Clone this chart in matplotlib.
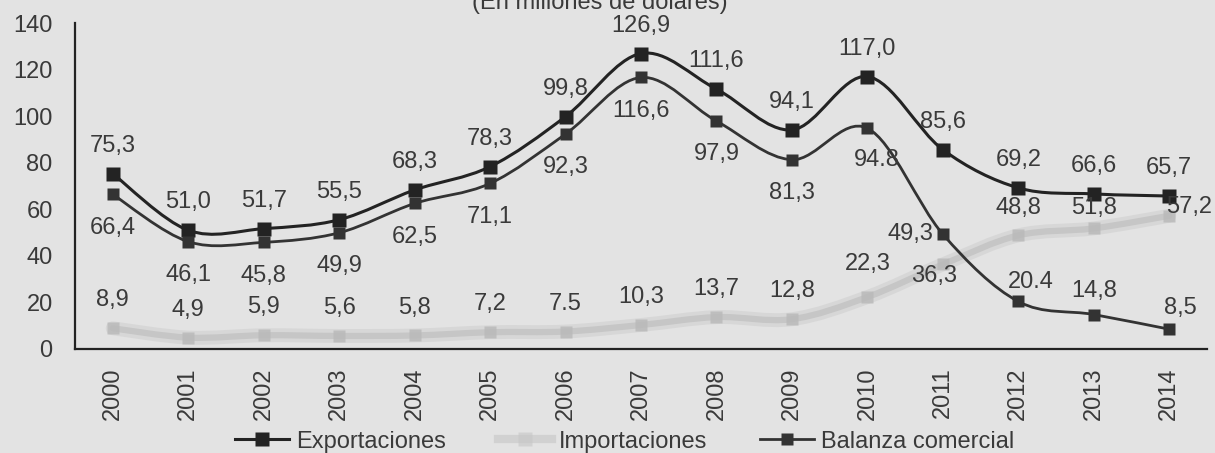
import matplotlib
matplotlib.use('Agg')
from matplotlib import pyplot as plt
from matplotlib.path import Path
from matplotlib.patches import PathPatch
from matplotlib.lines import Line2D

# datos (en millones de dolares)
years = ['2000', '2001', '2002', '2003', '2004', '2005', '2006', '2007',
         '2008', '2009', '2010', '2011', '2012', '2013', '2014']
exportaciones = [75.3, 51.0, 51.7, 55.5, 68.3, 78.3, 99.8, 126.9,
                 111.6, 94.1, 117.0, 85.6, 69.2, 66.6, 65.7]
importaciones = [8.9, 4.9, 5.9, 5.6, 5.8, 7.2, 7.5, 10.3,
                 13.7, 12.8, 22.3, 36.3, 48.8, 51.8, 57.2]
balanza = [66.4, 46.1, 45.8, 49.9, 62.5, 71.1, 92.3, 116.6,
           97.9, 81.3, 94.8, 49.3, 20.4, 14.8, 8.5]

exp_labels = ['75,3', '51,0', '51,7', '55,5', '68,3', '78,3', '99,8', '126,9',
              '111,6', '94,1', '117,0', '85,6', '69,2', '66,6', '65,7']
imp_labels = ['8,9', '4,9', '5,9', '5,6', '5,8', '7,2', '7.5', '10,3',
              '13,7', '12,8', '22,3', '36,3', '48,8', '51,8', '57,2']
bal_labels = ['66,4', '46,1', '45,8', '49,9', '62,5', '71,1', '92,3', '116,6',
              '97,9', '81,3', '94.8', '49,3', '20.4', '14,8', '8,5']

# desplazamientos de las etiquetas (puntos)
imp_offsets = {10: (0, 24), 11: (-6, -8), 13: (0, 15), 14: (14, 6)}
bal_offsets = {10: (7, -23), 11: (-23, 0), 12: (9, 14), 13: (0, 17), 14: (8, 15)}

BG = '#e3e3e3'
DARK = '#232323'
TXT = '#3a3a3a'
GRAY = '#c6c6c6'

plt.rcParams['font.family'] = ['Liberation Sans', 'DejaVu Sans']
plt.rcParams['font.size'] = 17


def smooth_path(xs, ys):
    # curva suavizada tipo Catmull-Rom convertida a Bezier
    pts = list(zip(xs, ys))
    n = len(pts)
    verts = [pts[0]]
    codes = [Path.MOVETO]
    for i in range(n - 1):
        p0 = pts[max(i - 1, 0)]
        p1 = pts[i]
        p2 = pts[i + 1]
        p3 = pts[min(i + 2, n - 1)]
        c1 = (p1[0] + (p2[0] - p0[0]) / 6, p1[1] + (p2[1] - p0[1]) / 6)
        c2 = (p2[0] - (p3[0] - p1[0]) / 6, p2[1] - (p3[1] - p1[1]) / 6)
        verts += [c1, c2, p2]
        codes += [Path.CURVE4] * 3
    return Path(verts, codes)


fig = plt.figure(figsize=(12.15, 4.53), dpi=100, facecolor=BG)
ax = fig.add_axes([0.0617, 0.2296, 0.9317, 0.7196])
ax.set_facecolor(BG)

x = list(range(len(years)))

# importaciones (gris difuso)
ax.add_patch(PathPatch(smooth_path(x, importaciones), fill=False,
                       edgecolor=GRAY, lw=10, alpha=0.4, capstyle='round'))
ax.add_patch(PathPatch(smooth_path(x, importaciones), fill=False,
                       edgecolor=GRAY, lw=4.5, capstyle='round'))
ax.plot(x, importaciones, 's', color='#bababa', ms=9, mec='none', alpha=0.85)

# exportaciones y balanza
ax.add_patch(PathPatch(smooth_path(x, exportaciones), fill=False,
                       edgecolor=DARK, lw=2.2))
ax.plot(x, exportaciones, 's', color=DARK, ms=10, mec='none')
ax.add_patch(PathPatch(smooth_path(x, balanza), fill=False,
                       edgecolor='#333333', lw=2.0))
ax.plot(x, balanza, 's', color='#333333', ms=9, mec='none')

# etiquetas de datos
for i in x:
    ax.annotate(exp_labels[i], (i, exportaciones[i]), xytext=(0, 20),
                textcoords='offset points', ha='center', va='center', color=TXT)
    ax.annotate(imp_labels[i], (i, importaciones[i]),
                xytext=imp_offsets.get(i, (0, 20)),
                textcoords='offset points', ha='center', va='center', color=TXT)
    ax.annotate(bal_labels[i], (i, balanza[i]),
                xytext=bal_offsets.get(i, (0, -24)),
                textcoords='offset points', ha='center', va='center', color=TXT)

ax.set_xlim(-0.5, 14.5)
ax.set_ylim(0, 140)
ax.set_yticks(range(0, 141, 20))
ax.set_xticks(x)
ax.set_xticklabels(years, rotation=90)
ax.tick_params(axis='both', length=0, colors=TXT, labelsize=17)
ax.tick_params(axis='y', pad=16)
ax.tick_params(axis='x', pad=13)

for side in ['top', 'right']:
    ax.spines[side].set_visible(False)
for side in ['left', 'bottom']:
    ax.spines[side].set_color(DARK)
    ax.spines[side].set_linewidth(1.6)

fig.text(0.494, 0.98, '(En millones de dólares)', ha='center', va='baseline',
         color=TXT, fontsize=17)

handles = [
    Line2D([], [], color=DARK, lw=2.2, marker='s', ms=10, mec='none'),
    Line2D([], [], color=GRAY, lw=6, marker='s', ms=10, mec='none', alpha=0.6),
    Line2D([], [], color='#333333', lw=2.0, marker='s', ms=8, mec='none'),
]
fig.legend(handles, ['Exportaciones', 'Importaciones', 'Balanza comercial'],
           loc='center', bbox_to_anchor=(0.514, 0.025), ncol=3, frameon=False,
           handlelength=2.3, handletextpad=0.3, columnspacing=2.2,
           labelcolor=TXT, fontsize=17)

fig.savefig('out.png', dpi=100, facecolor=BG)
